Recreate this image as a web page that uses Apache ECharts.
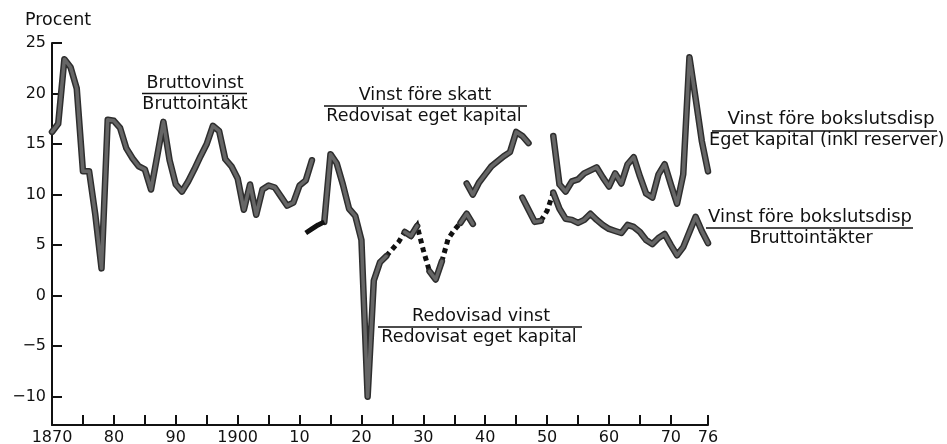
<!DOCTYPE html>
<html><head><meta charset="utf-8">
<script src="https://cdn.jsdelivr.net/npm/echarts@6/dist/echarts.min.js"></script>
<style>html,body{margin:0;padding:0;background:#fff}#c{width:947px;height:444px}</style>
</head><body><div id="c"></div>
<script>
// ---------- DATA ----------
const bruttoYears = [1870,1871,1872,1873,1874,1875,1876,1877,1878,1879,1880,1881,1882,1883,1884,1885,1886,1887,1888,1889,1890,1891,1892,1893,1894,1895,1896,1897,1898,1899,1900,1901,1902,1903,1904,1905,1906,1907,1908,1909,1910,1911,1912];
const bruttoValues = [16.2,17.0,23.4,22.6,20.5,12.3,12.3,8.0,2.7,17.4,17.3,16.6,14.6,13.6,12.8,12.5,10.5,13.8,17.2,13.4,11.0,10.3,11.3,12.5,13.8,15.0,16.8,16.3,13.5,12.8,11.6,8.5,11.0,8.0,10.5,10.9,10.7,9.8,8.9,9.2,10.9,11.4,13.4];

// Vinst före skatt / Redovisat eget kapital (early black part and later part)
const vfsEarlyYears = [1911,1912,1913,1914];
const vfsEarlyValues = [6.2,6.6,7.0,7.3];
const vfsLateYears = [1937,1938,1939,1940,1941,1942,1943,1944,1945,1946,1947];
const vfsLateValues = [11.1,10.0,11.2,12.0,12.8,13.3,13.8,14.2,16.2,15.8,15.1];

// Redovisad vinst / Redovisat eget kapital
const rvSolidYears = [1914,1915,1916,1917,1918,1919,1920,1921,1922,1923,1924];
const rvSolidValues = [7.3,14.0,13.1,11.0,8.6,7.9,5.5,-10.0,1.5,3.3,3.9];
const rvDotYears = [1924,1925,1926,1927,1928,1929,1930,1931,1932,1933,1934,1935,1936,1937];
const rvDotValues = [3.9,4.6,5.3,6.3,5.9,6.9,4.5,2.4,1.6,3.4,5.6,6.5,7.2,8.1];
const rvPiece1Years = [1927,1928,1929];
const rvPiece1Values = [6.3,5.9,6.9];
const rvPiece2Years = [1931,1932,1933];
const rvPiece2Values = [2.4,1.6,3.4];
const rvPiece3Years = [1936,1937,1938];
const rvPiece3Values = [7.2,8.1,7.1];

// Vinst före bokslutsdisp / Eget kapital (inkl reserver)
const ekYears = [1951,1952,1953,1954,1955,1956,1957,1958,1959,1960,1961,1962,1963,1964,1965,1966,1967,1968,1969,1970,1971,1972,1973,1974,1975,1976];
const ekValues = [15.8,11.0,10.3,11.3,11.5,12.1,12.4,12.7,11.7,10.8,12.1,11.1,13.0,13.7,11.8,10.1,9.7,12.0,13.0,11.0,9.1,12.0,23.6,19.5,15.3,12.3];

// Vinst före bokslutsdisp / Bruttointäkter
const biEarlyYears = [1946,1947,1948,1949];
const biEarlyValues = [9.7,8.5,7.3,7.4];
const biGapYears = [1949,1950,1951];
const biGapValues = [7.4,8.4,10.2];
const biYears = [1951,1952,1953,1954,1955,1956,1957,1958,1959,1960,1961,1962,1963,1964,1965,1966,1967,1968,1969,1970,1971,1972,1973,1974,1975,1976];
const biValues = [10.2,8.6,7.6,7.5,7.2,7.5,8.1,7.5,7.0,6.6,6.4,6.2,7.0,6.8,6.3,5.5,5.1,5.7,6.1,5.0,4.0,4.8,6.3,7.8,6.4,5.2];

// Axis ticks / labels
const xTickYears = [1870,1875,1880,1885,1890,1895,1900,1905,1910,1915,1920,1925,1930,1935,1940,1945,1950,1955,1960,1965,1970,1976];
const xLabelYears = [1870,1880,1890,1900,1910,1920,1930,1940,1950,1960,1970,1976];
const xLabelTexts = ['1870','80','90','1900','10','20','30','40','50','60','70','76'];
const yTicks = [-10,-5,0,5,10,15,20,25];

// ---------- CHART ----------
const FONT = '"DejaVu Sans", sans-serif';
const zip = (xs, ys) => xs.map((x, i) => [x, ys[i]]);

const series = [];
function greyLine(xs, ys) {
  const d = zip(xs, ys);
  series.push({type:'line', data:d, symbol:'none', silent:true, z:2,
    lineStyle:{color:'#2e2e2e', width:6.5, cap:'round', join:'round'}});
  series.push({type:'line', data:d, symbol:'none', silent:true, z:3,
    lineStyle:{color:'#666', width:3.5, cap:'round', join:'round'}});
}
function blackLine(xs, ys) {
  series.push({type:'line', data:zip(xs, ys), symbol:'none', silent:true, z:4,
    lineStyle:{color:'#111', width:5, cap:'butt', join:'round'}});
}
function dotLine(xs, ys) {
  series.push({type:'line', data:zip(xs, ys), symbol:'none', silent:true, z:1,
    lineStyle:{color:'#111', width:5, type:[5,4], cap:'butt', join:'miter'}});
}

greyLine(bruttoYears, bruttoValues);
blackLine(vfsEarlyYears, vfsEarlyValues);
greyLine(rvSolidYears, rvSolidValues);
dotLine(rvDotYears, rvDotValues);
greyLine(rvPiece1Years, rvPiece1Values);
greyLine(rvPiece2Years, rvPiece2Values);
greyLine(rvPiece3Years, rvPiece3Values);
greyLine(vfsLateYears, vfsLateValues);
greyLine(ekYears, ekValues);
greyLine(biEarlyYears, biEarlyValues);
dotLine(biGapYears, biGapValues);
greyLine(biYears, biValues);

// baseline-positioned text (top-aligned box, shifted by ascent)
function txt(text, x, baseline, size, align) {
  return {type:'text', silent:true, z:10, x:x, y:baseline - 0.86 * size,
    style:{text:text, font: size + 'px ' + FONT, fill:'#111', align:align || 'center', verticalAlign:'top'}};
}
function rule(x1, x2, y) {
  return {type:'line', silent:true, z:10, shape:{x1:x1, y1:y, x2:x2, y2:y},
    style:{stroke:'#111', lineWidth:1.5}};
}

const chart = echarts.init(document.getElementById('c'), null, {renderer:'canvas'});
chart.setOption({
  animation:false,
  backgroundColor:'#fff',
  grid:{left:52, right:239, top:43, bottom:19, containLabel:false, outerBoundsMode:'none'},
  xAxis:{type:'value', min:1870, max:1976,
    axisLine:{show:true, onZero:false, lineStyle:{color:'#111', width:2}},
    axisTick:{show:true, inside:true, length:10, lineStyle:{color:'#111', width:2}, customValues:xTickYears},
    axisLabel:{show:true, customValues:xLabelYears, margin:5, fontSize:16, fontFamily:FONT, color:'#111',
      formatter:(v) => { const i = xLabelYears.indexOf(Math.round(v)); return i >= 0 ? xLabelTexts[i] : ''; }},
    splitLine:{show:false}},
  yAxis:{type:'value', min:-12.8, max:25,
    axisLine:{show:true, onZero:false, lineStyle:{color:'#111', width:2}},
    axisTick:{show:true, inside:true, length:10, lineStyle:{color:'#111', width:2}, customValues:yTicks},
    axisLabel:{show:true, customValues:yTicks, margin:6, fontSize:16, fontFamily:FONT, color:'#111',
      formatter:(v) => v < 0 ? '\u2212' + (-v) : String(v)},
    splitLine:{show:false}},
  series: series,
  graphic:[
    txt('Procent', 25, 27, 17.5, 'left'),
    txt('Bruttovinst', 195, 90, 17.5), rule(142, 247, 93.5), txt('Bruttointäkt', 195, 111, 17.5),
    txt('Vinst före skatt', 425, 102, 17.5), rule(324, 527, 106), txt('Redovisat eget kapital', 424, 122.5, 17.5),
    txt('Redovisad vinst', 481, 323, 17.5), rule(378, 582, 327), txt('Redovisat eget kapital', 479, 343.5, 17.5),
    txt('Vinst före bokslutsdisp', 831, 126, 18.3), rule(712, 937, 131), txt('Eget kapital (inkl reserver)', 709, 146.5, 17.7, 'left'),
    txt('Vinst före bokslutsdisp', 810, 223.5, 18), rule(706, 913, 228), txt('Bruttointäkter', 811, 244.5, 17.5)
  ]
});
</script>
</body></html>
